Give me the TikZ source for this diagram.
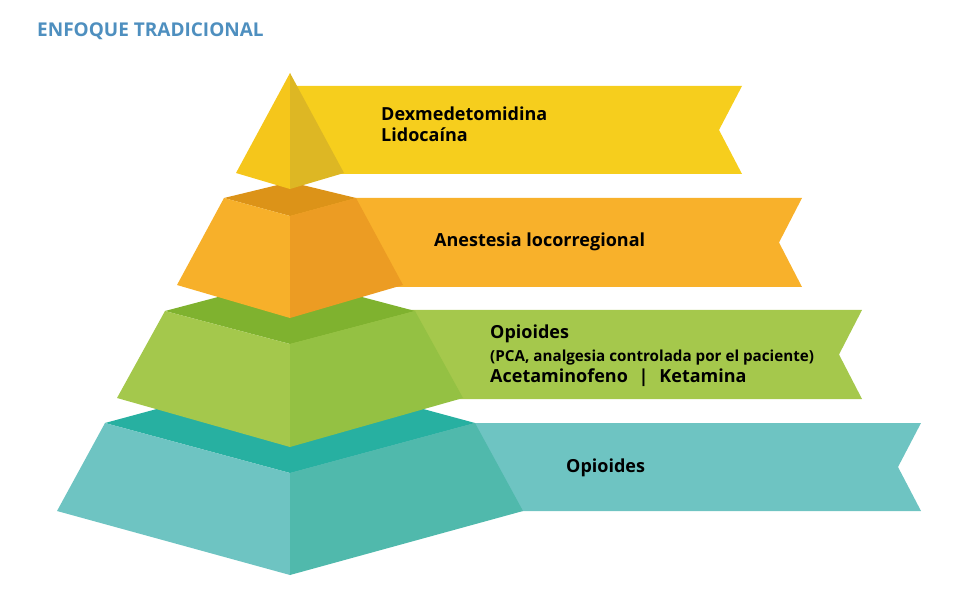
\documentclass[tikz,border=0pt]{standalone}
\usepackage{fontspec}
\setmainfont{Open Sans}
\newfontfamily\lblfont{Open Sans}
\definecolor{ttl}{HTML}{4E8FBF}
\definecolor{yRib}{HTML}{F6CE1D}
\definecolor{yL}{HTML}{F5C61B}
\definecolor{yR}{HTML}{DDB724}
\definecolor{oRib}{HTML}{F8B12B}
\definecolor{oL}{HTML}{F7B02A}
\definecolor{oR}{HTML}{EC9C23}
\definecolor{oT}{HTML}{DC9318}
\definecolor{gRib}{HTML}{A5C84C}
\definecolor{gL}{HTML}{A4C84C}
\definecolor{gR}{HTML}{94C143}
\definecolor{gT}{HTML}{7FB22F}
\definecolor{tRib}{HTML}{6EC4C2}
\definecolor{tL}{HTML}{6EC4C2}
\definecolor{tR}{HTML}{50B9AC}
\definecolor{tT}{HTML}{27B0A1}
\tikzset{
  lbl/.style={anchor=base west, inner sep=0pt, font=\lblfont\bfseries\fontsize{18}{21}\selectfont, text=black},
  sublbl/.style={anchor=base west, inner sep=0pt, font=\lblfont\bfseries\fontsize{15.2}{17}\selectfont, text=black},
}
\begin{document}
\begin{tikzpicture}[x=1pt,y=-1pt]
\useasboundingbox (0,0) rectangle (971,593);
% ribbons
\fill[yRib] (290,86) -- (742,86) -- (719,130) -- (742,174) -- (290,174) -- cycle;
\fill[oRib] (290,198) -- (802,198) -- (779,242.5) -- (802,287) -- (290,287) -- cycle;
\fill[gRib] (290,310) -- (862,310) -- (839,354.5) -- (862,399) -- (290,399) -- cycle;
\fill[tRib] (290,423) -- (921,423) -- (898,467) -- (921,511) -- (290,511) -- cycle;
% teal layer
\fill[tT] (105,423) -- (290,373) -- (475,423) -- (290,473) -- cycle;
\fill[tL] (105,423) -- (290,473) -- (290,575) -- (57,511) -- cycle;
\fill[tR] (290,473) -- (475,423) -- (523,511) -- (290,575) -- cycle;
% green layer
\fill[gT] (165,311) -- (290,278) -- (415,311) -- (290,344) -- cycle;
\fill[gL] (165,311) -- (290,344) -- (290,447) -- (117,398) -- cycle;
\fill[gR] (290,344) -- (415,311) -- (463,398) -- (290,447) -- cycle;
% orange layer
\fill[oT] (224,198) -- (290,182) -- (356,198) -- (290,216) -- cycle;
\fill[oL] (224,198) -- (290,216) -- (290,318) -- (177,285) -- cycle;
\fill[oR] (290,216) -- (356,198) -- (403,285) -- (290,318) -- cycle;
% yellow top
\fill[yL] (290,73) -- (236,173) -- (290,189) -- cycle;
\fill[yR] (290,73) -- (344,173) -- (290,189) -- cycle;
% title
\node[anchor=base west, inner sep=0pt, text=ttl, font=\bfseries\fontsize{19}{22}\selectfont] (title) at (37,37) {ENFOQUE TRADICIONAL};
% labels
\node[lbl] (y1) at (381,121) {Dexmedetomidina};
\node[lbl] (y2) at (381,142) {Lidocaína};
\node[lbl] (o1) at (434,247) {Anestesia locorregional};
\node[lbl] (g1) at (490,338) {Opioides};
\node[sublbl] (g2) at (490,361) {(PCA, analgesia controlada por el paciente)};
\node[lbl] (g3) at (490,382) {Acetaminofeno\hspace{0.6em}|\hspace{0.6em}Ketamina};
\node[lbl] (t1) at (566,472) {Opioides};
\end{tikzpicture}
\end{document}
